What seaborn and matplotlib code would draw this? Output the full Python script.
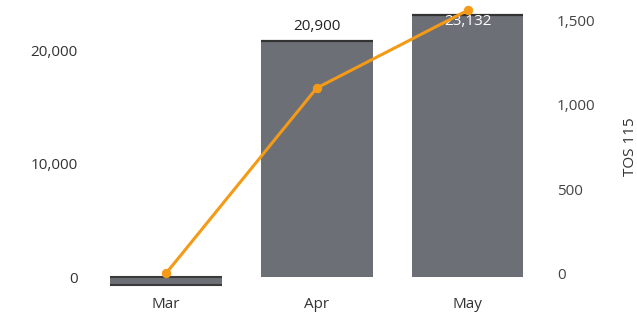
import matplotlib
matplotlib.use("Agg")
import matplotlib.pyplot as plt
import seaborn as sns
import pandas as pd
from matplotlib.ticker import FuncFormatter

months = ["Mar", "Apr", "May"]
bar_values = [-700, 20900, 23132]
bar_labels = ["", "20,900", "23,132"]
line_values = [0, 1100, 1560]
left_ticks = [0, 10000, 20000]
right_ticks = [0, 500, 1000, 1500]
right_label = "TOS 115"

sns.set_theme(style="white")
plt.rcParams['font.family'] = ['Open Sans', 'DejaVu Sans']

df = pd.DataFrame({"month": months, "bar": bar_values, "line": line_values})

fig = plt.figure(figsize=(6.37, 3.2), dpi=100)
ax = fig.add_axes([83/637, 1 - 292/320, (543 - 83)/637, (292 - 2)/320])

sns.barplot(data=df, x="month", y="bar", ax=ax, color="#6c6f76", saturation=1,
            width=0.74, linewidth=0)
bw = 0.74
for i, v in enumerate(bar_values):
    if v < 0:
        ax.hlines([0, v], i - bw / 2, i + bw / 2, color="#3a3a3a", linewidth=1.5)
    else:
        ax.hlines(v, i - bw / 2, i + bw / 2, color="#333333", linewidth=1.6)
ax.set_ylim(-1300, 24300)
ax.set_xlim(-0.55, 2.5)
ax.set_yticks(left_ticks)
ax.yaxis.set_major_formatter(FuncFormatter(lambda v, p: f"{int(v):,}"))
ax.set_xlabel("")
ax.set_ylabel("")
ax.tick_params(axis="both", length=0, labelsize=11, colors="#333333")
ax.tick_params(axis="y", pad=4)
for s in ax.spines.values():
    s.set_visible(False)

for i, (v, lab) in enumerate(zip(bar_values, bar_labels)):
    if not lab:
        continue
    if v > 22000:
        ax.text(i, v + 150, lab, ha="center", va="top", fontsize=11, color="white")
    else:
        ax.text(i, v + 600, lab, ha="center", va="bottom", fontsize=11, color="#222222")

ax2 = ax.twinx()
sns.lineplot(data=df, x="month", y="line", ax=ax2, color="#f59a17", linewidth=2.2,
             marker="o", markersize=6, markeredgecolor="#f59a17", sort=False)
ax2.set_ylim(-110, 1610)
ax2.set_yticks(right_ticks)
ax2.yaxis.set_major_formatter(FuncFormatter(lambda v, p: f"{int(v):,}"))
ax2.set_ylabel(right_label, fontsize=11, color="#333333", labelpad=20)
ax2.tick_params(axis="y", length=0, labelsize=11, colors="#444444", pad=10)
for s in ax2.spines.values():
    s.set_visible(False)

fig.savefig("out.png", dpi=100)
